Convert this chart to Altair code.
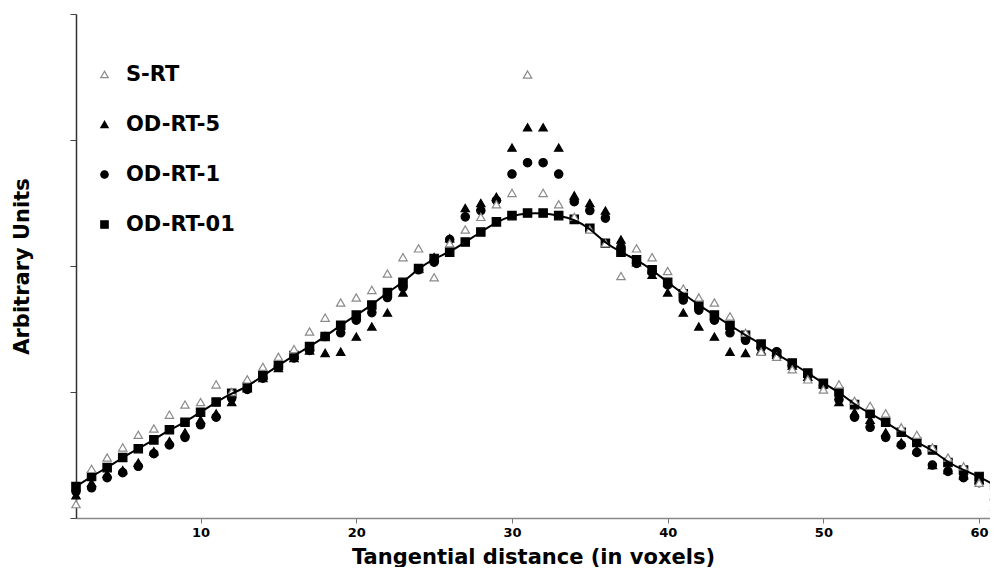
import altair as alt
import pandas as pd

# Tangential distance (voxels)
x_vals = list(range(2, 62))

# Values in arbitrary units
s_rt = [0.11, 0.39, 0.48, 0.56, 0.66, 0.71, 0.82, 0.90, 0.92, 1.06,
        1.00, 1.10, 1.20, 1.28, 1.34, 1.48, 1.59, 1.71, 1.75, 1.81,
        1.94, 2.07, 2.14, 1.91, 2.18, 2.29, 2.39, 2.49, 2.58, 3.52,
        2.58, 2.49, 2.39, 2.29, 2.18, 1.92, 2.14, 2.07, 1.96, 1.82,
        1.75, 1.71, 1.60, 1.47, 1.32, 1.28, 1.18, 1.10, 1.02, 1.06,
        0.93, 0.89, 0.83, 0.72, 0.66, 0.56, 0.48, 0.41, 0.28, 0.09]

od_rt_5 = [0.18, 0.28, 0.35, 0.38, 0.44, 0.53, 0.61, 0.68, 0.78, 0.83,
           0.92, 1.03, 1.11, 1.19, 1.27, 1.33, 1.31, 1.32, 1.44, 1.52,
           1.63, 1.79, 1.98, 2.07, 2.22, 2.46, 2.50, 2.55, 2.94, 3.10,
           3.10, 2.94, 2.56, 2.50, 2.44, 2.21, 2.03, 1.93, 1.79, 1.63,
           1.52, 1.44, 1.32, 1.31, 1.33, 1.32, 1.21, 1.12, 1.06, 0.92,
           0.84, 0.78, 0.68, 0.60, 0.54, 0.42, 0.38, 0.34, 0.30, 0.18]

od_rt_1 = [0.21, 0.24, 0.32, 0.36, 0.41, 0.51, 0.58, 0.64, 0.74, 0.80,
           0.95, 1.02, 1.11, 1.20, 1.27, 1.33, 1.44, 1.47, 1.57, 1.63,
           1.75, 1.83, 1.97, 2.03, 2.21, 2.39, 2.44, 2.52, 2.73, 2.82,
           2.82, 2.73, 2.51, 2.44, 2.38, 2.15, 2.02, 1.95, 1.85, 1.73,
           1.65, 1.57, 1.47, 1.41, 1.35, 1.32, 1.21, 1.13, 1.05, 0.94,
           0.80, 0.72, 0.64, 0.58, 0.52, 0.42, 0.37, 0.32, 0.28, 0.14]

od_rt_01 = [0.25, 0.33, 0.40, 0.48, 0.55, 0.62, 0.70, 0.76, 0.84, 0.92,
            0.99, 1.04, 1.13, 1.21, 1.29, 1.36, 1.44, 1.53, 1.61, 1.69,
            1.79, 1.87, 1.98, 2.06, 2.11, 2.19, 2.27, 2.35, 2.40, 2.42,
            2.42, 2.40, 2.37, 2.30, 2.18, 2.11, 2.05, 1.97, 1.87, 1.78,
            1.69, 1.61, 1.53, 1.45, 1.38, 1.30, 1.23, 1.15, 1.07, 1.00,
            0.90, 0.83, 0.76, 0.68, 0.60, 0.54, 0.44, 0.38, 0.33, 0.26]

series_names = ["S-RT", "OD-RT-5", "OD-RT-1", "OD-RT-01"]
series_vals = [s_rt, od_rt_5, od_rt_1, od_rt_01]
shapes = ["triangle-up", "triangle-up", "circle", "square"]
fills = ["white", "black", "black", "black"]
strokes = ["#8a8a8a", "black", "black", "black"]

rows = []
for name, vals in zip(series_names, series_vals):
    for xv, yv in zip(x_vals, vals):
        rows.append({"x": xv, "y": yv, "series": name})
df = pd.DataFrame(rows)
line_df = pd.DataFrame({"x": x_vals, "y": od_rt_01})

FONT = "DejaVu Sans"

xscale = alt.Scale(domain=[2, 60.7], nice=False, zero=False)
yscale = alt.Scale(domain=[0, 4], nice=False)

xaxis = alt.Axis(values=[10, 20, 30, 40, 50, 60], title="Tangential distance (in voxels)",
                 grid=False, labelFont=FONT, labelFontWeight="bold", labelFontSize=13,
                 labelColor="black", tickSize=5, tickColor="#777", domainColor="#888",
                 domainWidth=1.5, labelPadding=3, titleFont=FONT, titleFontSize=21,
                 titleFontWeight="bold", titleColor="black", titlePadding=7)
yaxis = alt.Axis(values=[0, 1, 2, 3, 4], labels=False, title="Arbitrary Units", grid=False,
                 tickSize=6, tickColor="#444", domainColor="#333", domainWidth=1.5,
                 titleFont=FONT, titleFontSize=21, titleFontWeight="bold",
                 titleColor="black", titlePadding=37)

points = alt.Chart(df).mark_point(size=70, opacity=1, strokeWidth=1.2).encode(
    x=alt.X("x:Q", scale=xscale, axis=xaxis),
    y=alt.Y("y:Q", scale=yscale, axis=yaxis),
    shape=alt.Shape("series:N", scale=alt.Scale(domain=series_names, range=shapes), title=None),
    fill=alt.Fill("series:N", scale=alt.Scale(domain=series_names, range=fills), title=None),
    stroke=alt.Stroke("series:N", scale=alt.Scale(domain=series_names, range=strokes), title=None),
    order=alt.Order("series:N"),
)

line = alt.Chart(line_df).mark_line(color="black", strokeWidth=2, interpolate="basis").encode(
    x=alt.X("x:Q", scale=xscale),
    y=alt.Y("y:Q", scale=yscale),
)

chart = alt.layer(points, line).properties(
    width=914, height=504,
    autosize=alt.AutoSizeParams(type="none"),
    padding={"left": 68, "top": 6, "right": 0, "bottom": 49},
).configure_view(stroke=None).configure_legend(
    orient="none", legendX=18, legendY=50, padding=0,
    labelFont=FONT, labelFontSize=21, labelFontWeight="bold", labelColor="black",
    rowPadding=28, symbolSize=55, labelOffset=11, symbolStrokeWidth=1.2,
)

chart.save("out.html", embed_options={"renderer": "svg", "actions": False})
